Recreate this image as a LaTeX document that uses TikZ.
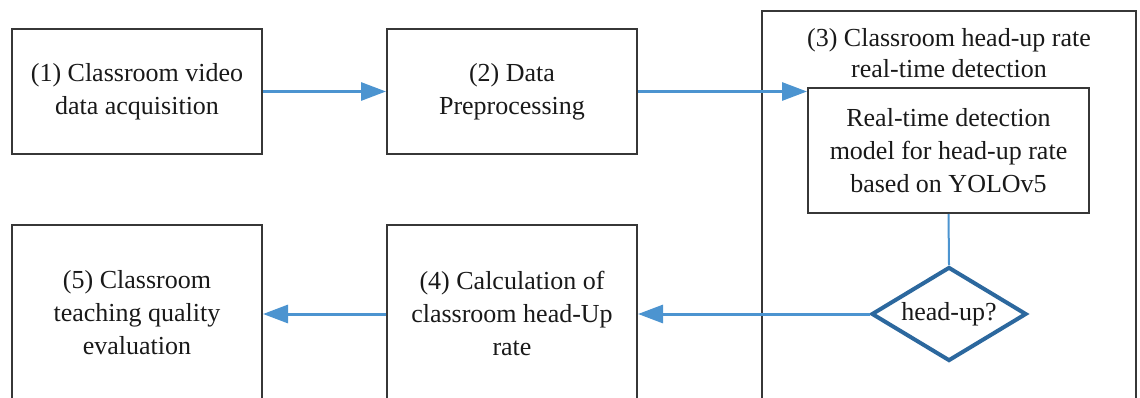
\documentclass[tikz,border=0pt]{standalone}
\usepackage{fontspec}
\setmainfont{Liberation Serif}
\usetikzlibrary{arrows.meta,shapes.geometric,calc}
\definecolor{flowblue}{RGB}{76,148,208}
\definecolor{diablue}{RGB}{44,104,158}
\definecolor{boxgray}{RGB}{55,55,55}
\definecolor{inkgray}{RGB}{25,25,25}
\tikzset{
  stepbox/.style={draw=boxgray, line width=2pt, minimum width=250pt,
    minimum height=125pt, inner sep=0pt, align=center, text=inkgray,
    font=\fontsize{26pt}{33pt}\selectfont},
  flow/.style={draw=flowblue, line width=3pt,
    -{Triangle[length=25pt,width=18pt]}},
  decision/.style={diamond, draw=diablue, line width=4pt, inner sep=0pt,
    minimum width=155pt, minimum height=94pt, aspect=1.65, text=inkgray,
    font=\fontsize{26pt}{33pt}\selectfont, fill=white},
}
\begin{document}
\begin{tikzpicture}[x=1pt,y=-1pt]
  \useasboundingbox (0,0) rectangle (1140,398);
  \clip (0,0) rectangle (1140,398);

  % top row
  \node[stepbox] (acq) at (137,91.5) {(1) Classroom video\\data acquisition};
  \node[stepbox] (pre) at (512,91.5) {(2) Data\\Preprocessing};

  % detection stage: outer frame with title, model box and decision
  \node[draw=boxgray, line width=1.6pt, minimum width=374pt,
        minimum height=420pt, inner sep=0pt] (stage) at (949,221) {};
  \node[align=center, text=inkgray, font=\fontsize{26pt}{31pt}\selectfont]
        (stagetitle) at (949,53) {(3) Classroom head-up rate\\real-time detection};
  \node[stepbox, minimum width=281pt] (model) at (948.5,150.5)
        {Real-time detection\\model for head-up rate\\based on YOLOv5};
  \node[decision] (dec) at (949,314) {head-up?};

  % bottom row (boxes run past the lower edge)
  \node[stepbox, minimum height=176pt] (calc) at (512,313)
        {(4) Calculation of\\classroom head-Up\\rate};
  \node[stepbox, minimum height=176pt] (eval) at (137,313)
        {(5) Classroom\\teaching quality\\evaluation};

  % connectors
  \draw[flow] (acq.east) -- (pre.west);
  \draw[flow] (pre.east) -- (pre.east -| model.west);
  \draw[draw=flowblue, line width=2pt] (model.south) -- (dec.north);
  \draw[flow] (dec.west) -- (dec.west -| calc.east);
  \draw[flow] (dec.west -| calc.west) -- (dec.west -| eval.east);
\end{tikzpicture}
\end{document}
